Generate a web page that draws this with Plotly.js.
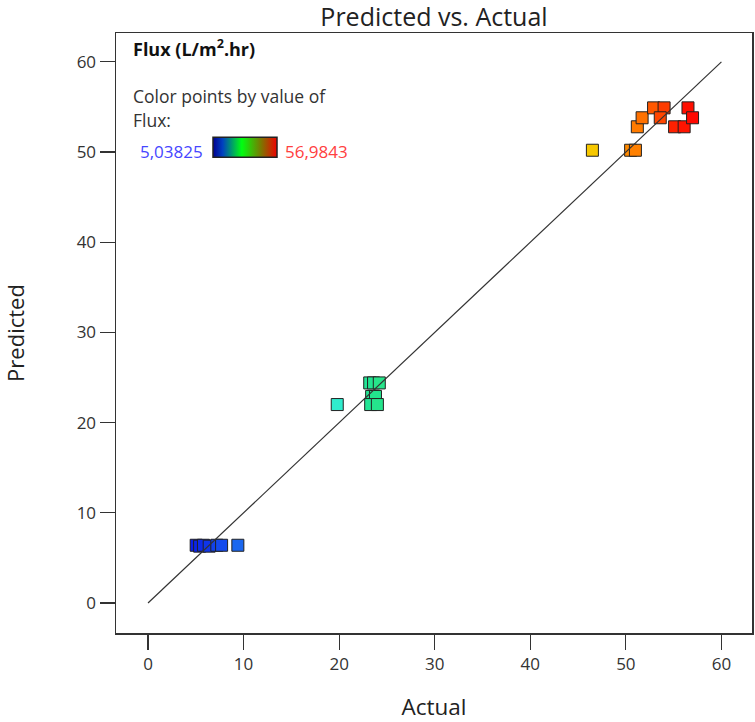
<!DOCTYPE html>
<html>
<head>
<meta charset="utf-8">
<script src="https://cdn.plot.ly/plotly-3.0.1.min.js"></script>
<style>
  html, body { margin: 0; padding: 0; background: #ffffff; }
  #chart { width: 755px; height: 722px; }
</style>
</head>
<body>
<div id="chart"></div>
<script>
// Flux response: measured (actual) values and model predictions per run
const actual = [
  5.04, 5.4, 5.8, 6.4, 7.2, 7.7, 9.4,
  19.8, 23.2, 23.6, 24.2, 23.4, 23.8, 23.3, 24.0,
  46.5, 50.5, 51.0, 51.2, 51.7, 52.9, 54.0, 53.6, 55.1, 56.1, 56.5, 56.98
];
const predicted = [
  6.4, 6.3, 6.4, 6.3, 6.4, 6.4, 6.4,
  22.0, 24.4, 24.4, 24.4, 22.9, 22.9, 22.0, 22.0,
  50.2, 50.2, 50.2, 52.8, 53.8, 54.9, 54.9, 53.8, 52.8, 52.8, 54.9, 53.8
];

// Colour range of the Flux legend
const fluxMin = 5.03825;
const fluxMax = 56.9843;
const fluxMinLabel = '5,03825';
const fluxMaxLabel = '56,9843';

// Reference line Predicted = Actual
const refLine = [0, 60];

// Axis ticks
const tickValues = [0, 10, 20, 30, 40, 50, 60];

const pointScale = [
  [0.00, '#0a1ee8'], [0.09, '#1c6cf0'], [0.28, '#30ecd0'], [0.36, '#22e48e'],
  [0.60, '#a8e020'], [0.80, '#f8c800'], [0.875, '#ff8a00'], [0.92, '#ff5a00'],
  [0.96, '#ff2400'], [1.00, '#ff0800']
];
const legendScale = [
  [0.00, '#000090'], [0.15, '#0040c0'], [0.45, '#00ff10'], [0.75, '#7a7800'], [1.00, '#f00000']
];

const FONT = 'Open Sans, Noto Sans, sans-serif';

const points = {
  type: 'scatter', mode: 'markers',
  x: actual, y: predicted,
  marker: {
    symbol: 'square', size: 12,
    color: actual, cmin: fluxMin, cmax: fluxMax, colorscale: pointScale,
    showscale: false,
    line: { color: '#222222', width: 1 }
  },
  hoverinfo: 'x+y', showlegend: false
};

// Empty trace carrying only the legend colour bar
const scaleCarrier = {
  type: 'scatter', mode: 'markers',
  x: [null, null], y: [null, null],
  marker: {
    color: [fluxMin, fluxMax], cmin: fluxMin, cmax: fluxMax,
    colorscale: legendScale, showscale: true,
    colorbar: {
      orientation: 'h',
      x: (213 - 116) / 636, xanchor: 'left',
      y: (633 - 148) / 600, yanchor: 'middle',
      len: 64, lenmode: 'pixels', thickness: 20,
      xpad: 0, ypad: 0,
      outlinewidth: 1.5, outlinecolor: '#222222',
      showticklabels: false, ticks: ''
    }
  },
  hoverinfo: 'skip', showlegend: false
};

const diagonal = {
  type: 'scatter', mode: 'lines',
  x: refLine, y: refLine,
  line: { color: '#333333', width: 1.2 },
  hoverinfo: 'skip', showlegend: false
};

const axisCommon = {
  tickvals: tickValues,
  ticks: 'outside', ticklen: 15, tickwidth: 1.2, tickcolor: '#333333',
  showline: true, mirror: true, linecolor: '#333333', linewidth: 1.5,
  showgrid: false, zeroline: false,
  tickfont: { family: FONT, size: 17, color: '#333333' },
  fixedrange: true
};

const layout = {
  width: 755, height: 722,
  margin: { l: 116, r: 3, t: 33, b: 89 },
  paper_bgcolor: '#ffffff', plot_bgcolor: '#ffffff',
  font: { family: FONT, color: '#222222' },
  title: {
    text: 'Predicted vs. Actual',
    font: { family: FONT, size: 25, color: '#222222' },
    x: 0.5, xref: 'paper', xanchor: 'center',
    y: 1 - 17 / 722, yref: 'container', yanchor: 'middle'
  },
  xaxis: Object.assign({}, axisCommon, {
    range: [-3.35, 63.2],
    title: { text: 'Actual', font: { family: FONT, size: 22.5, color: '#222222' }, standoff: 31 }
  }),
  yaxis: Object.assign({}, axisCommon, {
    range: [-3.33, 63.2],
    title: { text: 'Predicted', font: { family: FONT, size: 22, color: '#222222' }, standoff: 48 }
  }),
  annotations: [
    { text: '<b>Flux (L/m<sup>2</sup>.hr)</b>', xref: 'paper', yref: 'paper',
      x: (131 - 116) / 636, y: (633 - 48) / 600, xanchor: 'left', yanchor: 'middle',
      showarrow: false, font: { family: FONT, size: 18, color: '#111111' } },
    { text: 'Color points by value of', xref: 'paper', yref: 'paper',
      x: (131 - 116) / 636, y: (633 - 96) / 600, xanchor: 'left', yanchor: 'middle',
      showarrow: false, font: { family: FONT, size: 17.5, color: '#333333' } },
    { text: 'Flux:', xref: 'paper', yref: 'paper',
      x: (131 - 116) / 636, y: (633 - 120) / 600, xanchor: 'left', yanchor: 'middle',
      showarrow: false, font: { family: FONT, size: 17.5, color: '#333333' } },
    { text: fluxMinLabel, xref: 'paper', yref: 'paper',
      x: (138 - 116) / 636, y: (633 - 151) / 600, xanchor: 'left', yanchor: 'middle',
      showarrow: false, font: { family: FONT, size: 17, color: '#4646ff' } },
    { text: fluxMaxLabel, xref: 'paper', yref: 'paper',
      x: (283 - 116) / 636, y: (633 - 151) / 600, xanchor: 'left', yanchor: 'middle',
      showarrow: false, font: { family: FONT, size: 17, color: '#ff4040' } }
  ]
};

Plotly.newPlot('chart', [points, scaleCarrier, diagonal], layout, { displayModeBar: false, staticPlot: true });
</script>
</body>
</html>
